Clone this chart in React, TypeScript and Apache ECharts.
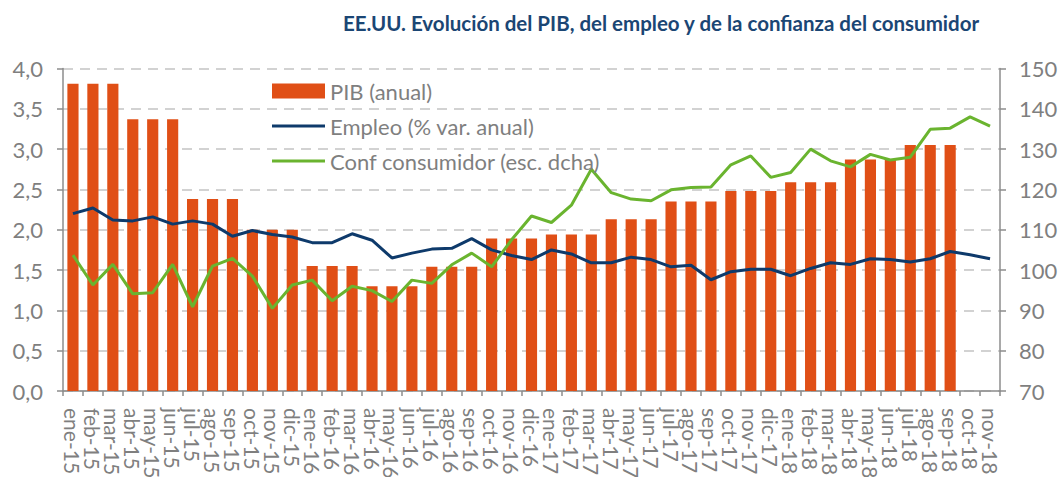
import React, { useEffect, useRef } from "react";
import * as echarts from "echarts";

const categories = [
  "ene-15","feb-15","mar-15","abr-15","may-15","jun-15","jul-15","ago-15","sep-15","oct-15","nov-15","dic-15",
  "ene-16","feb-16","mar-16","abr-16","may-16","jun-16","jul-16","ago-16","sep-16","oct-16","nov-16","dic-16",
  "ene-17","feb-17","mar-17","abr-17","may-17","jun-17","jul-17","ago-17","sep-17","oct-17","nov-17","dic-17",
  "ene-18","feb-18","mar-18","abr-18","may-18","jun-18","jul-18","ago-18","sep-18","oct-18","nov-18",
];

const pib = [
  3.81, 3.81, 3.81, 3.37, 3.37, 3.37, 2.38, 2.38, 2.38, 2.0, 2.0, 2.0,
  1.55, 1.55, 1.55, 1.3, 1.3, 1.3, 1.54, 1.54, 1.54, 1.89, 1.89, 1.89,
  1.94, 1.94, 1.94, 2.13, 2.13, 2.13, 2.35, 2.35, 2.35, 2.48, 2.48, 2.48,
  2.59, 2.59, 2.59, 2.87, 2.87, 2.87, 3.05, 3.05, 3.05, null, null,
];

const empleo = [
  2.2, 2.27, 2.12, 2.11, 2.16, 2.07, 2.11, 2.07, 1.92, 1.99, 1.94, 1.91,
  1.84, 1.84, 1.95, 1.87, 1.65, 1.71, 1.76, 1.77, 1.89, 1.75, 1.68, 1.63,
  1.75, 1.7, 1.59, 1.59, 1.66, 1.63, 1.54, 1.56, 1.38, 1.48, 1.51, 1.51,
  1.43, 1.52, 1.59, 1.57, 1.64, 1.63, 1.6, 1.64, 1.73, 1.69, 1.64,
];

const confianza = [
  103.7, 96.3, 101.4, 94.1, 94.4, 101.4, 90.9, 101.0, 102.9, 98.5, 90.5, 96.3,
  97.5, 92.4, 96.0, 94.9, 92.2, 97.5, 96.7, 101.3, 104.2, 100.8, 107.5, 113.4,
  111.8, 116.1, 125.0, 119.2, 117.6, 117.2, 119.9, 120.5, 120.6, 126.1, 128.3, 123.0,
  124.2, 130.0, 127.1, 125.6, 128.7, 127.3, 128.0, 134.9, 135.2, 138.0, 135.7,
];

const leftTicks = { min: 0, max: 4, interval: 0.5 };
const rightTicks = { min: 70, max: 150, interval: 10 };

const FONT = "Lato, 'Open Sans', sans-serif";
const GREY = "#7f7f7f";
const AXIS = "#8c8c8c";
const LINE_ICON = "path://M0,0 H53 V3.2 H0 Z";

export default function App() {
  const ref = useRef<HTMLDivElement>(null);
  useEffect(() => {
    if (!ref.current) return;
    const chart = echarts.init(ref.current, undefined, { renderer: "svg" });
    chart.setOption({
      animation: false,
      backgroundColor: "#ffffff",
      title: {
        text: "EE.UU. Evolución del PIB, del empleo y de la confianza del consumidor",
        left: 656,
        textAlign: "center",
        top: 7,
        textStyle: { fontFamily: FONT, fontWeight: "bold", fontSize: 20.5, color: "#1b4674" },
      },
      legend: {
        orient: "vertical",
        left: 267,
        top: 73,
        itemWidth: 53,
        itemHeight: 15,
        itemGap: 9,
        symbolKeepAspect: true,
        textStyle: { fontFamily: FONT, fontSize: 22, color: GREY, lineHeight: 26 },
        data: [
          { name: "PIB (anual)", icon: "rect" },
          { name: "Empleo (% var. anual)", icon: LINE_ICON },
          { name: "Conf consumidor (esc. dcha)", icon: LINE_ICON },
        ],
      },
      grid: {
        left: 63,
        right: 58,
        top: 68.5,
        bottom: 86,
        containLabel: false,
        outerBoundsMode: "none",
      },
      xAxis: {
        type: "category",
        data: categories,
        boundaryGap: true,
        axisLine: { lineStyle: { color: AXIS, width: 1.5 } },
        axisTick: { show: true, alignWithLabel: false, length: 5, lineStyle: { color: AXIS, width: 1.5 } },
        axisLabel: {
          rotate: -90,
          interval: 0,
          margin: 17,
          fontFamily: FONT,
          fontSize: 21,
          color: GREY,
        },
      },
      yAxis: [
        {
          type: "value",
          ...leftTicks,
          axisLine: { show: true, lineStyle: { color: AXIS, width: 1.5 } },
          axisTick: { show: true, length: 6, lineStyle: { color: AXIS, width: 1.5 } },
          axisLabel: {
            fontFamily: FONT,
            fontSize: 22,
            color: GREY,
            margin: 20,
            formatter: (v: number) => v.toFixed(1).replace(".", ","),
          },
          splitLine: { show: true, lineStyle: { color: "#c4c4c4", width: 1.5, type: [10, 7] } },
        },
        {
          type: "value",
          ...rightTicks,
          position: "right",
          axisLine: { show: true, lineStyle: { color: AXIS, width: 1.5 } },
          axisTick: { show: true, length: 6, lineStyle: { color: AXIS, width: 1.5 } },
          axisLabel: { fontFamily: FONT, fontSize: 22, color: GREY, margin: 19 },
          splitLine: { show: false },
        },
      ],
      series: [
        {
          name: "PIB (anual)",
          type: "bar",
          data: pib,
          barWidth: "56%",
          itemStyle: { color: "#e04f16" },
          yAxisIndex: 0,
        },
        {
          name: "Empleo (% var. anual)",
          type: "line",
          data: empleo,
          yAxisIndex: 0,
          symbol: "none",
          lineStyle: { color: "#0e3a6b", width: 3 },
          itemStyle: { color: "#0e3a6b" },
        },
        {
          name: "Conf consumidor (esc. dcha)",
          type: "line",
          data: confianza,
          yAxisIndex: 1,
          symbol: "none",
          lineStyle: { color: "#6ab42f", width: 3 },
          itemStyle: { color: "#6ab42f" },
        },
      ],
    });
    return () => chart.dispose();
  }, []);
  return <div ref={ref} style={{ width: 1058, height: 477, position: "fixed", left: 0, top: 0 }} />;
}
